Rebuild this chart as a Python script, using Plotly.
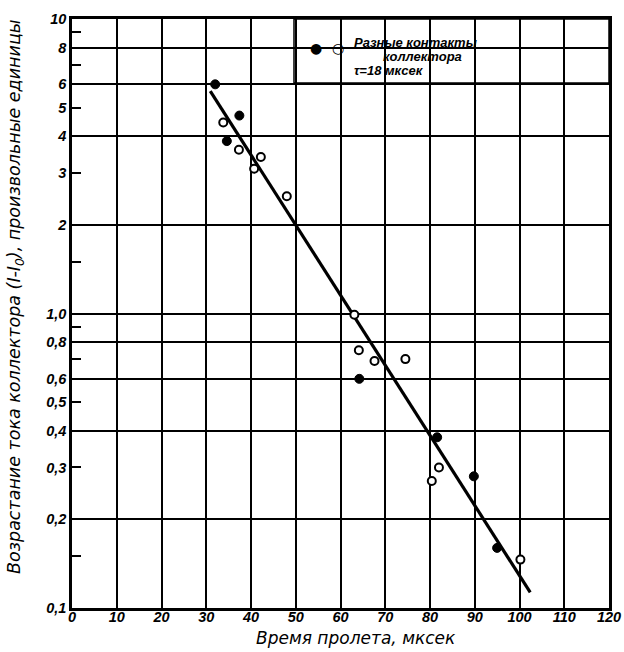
import plotly.graph_objects as go

# ---- data ----
filled_x = [32.0, 37.4, 34.6, 64.2, 81.6, 89.8, 95.0]
filled_y = [6.0, 4.7, 3.85, 0.60, 0.38, 0.28, 0.16]
open_x = [33.8, 37.3, 42.2, 40.7, 48.0, 63.1, 64.1, 67.6, 74.5, 82.0, 80.4, 100.2]
open_y = [4.45, 3.6, 3.4, 3.1, 2.5, 0.99, 0.75, 0.69, 0.70, 0.30, 0.27, 0.146]
fit_x = [30.9, 102.4]
fit_y = [5.69, 0.113]

x_ticks = list(range(0, 121, 10))
y_tickvals = [10, 9, 8, 7, 6, 5, 4, 3, 2, 1.5, 1, 0.9, 0.8, 0.7, 0.6, 0.5, 0.4, 0.3, 0.2, 0.15, 0.1]
y_ticktext = ["10", " ", "8", " ", "6", "5", "4", "3", "2", " ", "1,0", " ", "0,8", " ", "0,6", "0,5",
              "0,4", "0,3", "0,2", " ", "0,1"]
y_grid = [8, 6, 4, 2, 1, 0.8, 0.6, 0.4, 0.2]

FONT = "Liberation Sans"
tickfont = dict(family=FONT, size=14.5, color="black", style="italic", weight="bold")

# plot area in page pixels (body margin is removed below)
PL, PR, PT, PB = 72, 609, 19, 608
W, H = 624, 652


def px(xp):
    return (xp - PL) / (PR - PL)


def py(yp):
    return (PB - yp) / (PB - PT)


fig = go.Figure()
fig.add_trace(go.Scatter(x=fit_x, y=fit_y, mode="lines",
                         line=dict(color="black", width=3.2), showlegend=False))
fig.add_trace(go.Scatter(x=filled_x, y=filled_y, mode="markers",
                         marker=dict(color="black", size=9, line=dict(color="black", width=1)),
                         showlegend=False))
fig.add_trace(go.Scatter(x=open_x, y=open_y, mode="markers",
                         marker=dict(color="white", size=8, line=dict(color="black", width=2)),
                         showlegend=False))

fig.update_layout(
    width=W, height=H,
    margin=dict(l=PL, r=W - PR, t=PT, b=H - PB, autoexpand=False),
    paper_bgcolor="white", plot_bgcolor="white",
    xaxis=dict(range=[0, 120], tickvals=x_ticks, ticktext=[str(v) for v in x_ticks],
               showgrid=True, gridcolor="black", gridwidth=1.6, zeroline=False,
               showline=True, mirror=True, linecolor="black", linewidth=2.5,
               ticks="", tickfont=tickfont, ticklabelstandoff=-6, automargin=False),
    yaxis=dict(type="log", range=[-1, 1], tickvals=y_tickvals, ticktext=y_ticktext,
               showgrid=False, zeroline=False,
               showline=True, mirror=True, linecolor="black", linewidth=2.5,
               ticks="inside", ticklen=9, tickwidth=1.5, tickcolor="black",
               tickfont=tickfont, automargin=False,
               minor=dict(tickvals=y_grid, showgrid=True, gridcolor="black", gridwidth=1.6,
                          ticks="")),
)

# legend box (white, bordered) in the upper right of the plot area
fig.add_shape(type="rect", xref="paper", yref="paper",
              x0=px(294), x1=1.0, y0=py(83), y1=1.0,
              fillcolor="white", line=dict(color="black", width=1.5), layer="below")

lgfont = dict(family=FONT, size=13, color="black", style="italic", weight="bold")
sym = dict(family="DejaVu Sans", size=14, color="black")
fig.add_annotation(xref="paper", yref="paper", x=px(316), y=py(48), xanchor="center",
                   yanchor="middle", text="●", showarrow=False, font=sym)
fig.add_annotation(xref="paper", yref="paper", x=px(338), y=py(48), xanchor="center",
                   yanchor="middle", text="○", showarrow=False, font=sym)
fig.add_annotation(xref="paper", yref="paper", x=px(352), y=py(42), xanchor="left",
                   yanchor="middle", text="Разные контакты", showarrow=False, font=lgfont)
fig.add_annotation(xref="paper", yref="paper", x=px(381), y=py(56), xanchor="left",
                   yanchor="middle", text="коллектора", showarrow=False, font=lgfont)
fig.add_annotation(xref="paper", yref="paper", x=px(352), y=py(71), xanchor="left",
                   yanchor="middle", text="τ=18 мксек", showarrow=False, font=lgfont)

# axis titles
fig.add_annotation(xref="paper", yref="paper", x=px(15), y=py(297),
                   xanchor="center", yanchor="middle",
                   text="Возрастание тока коллектора (I-I<sub>0</sub>), произвольные единицы",
                   textangle=-90, showarrow=False,
                   font=dict(family="DejaVu Sans", size=17.5, color="black", style="italic"))
fig.add_annotation(xref="paper", yref="paper", x=px(356), y=py(638),
                   xanchor="center", yanchor="middle",
                   text="Время пролета, мксек", showarrow=False,
                   font=dict(family="DejaVu Sans", size=17, color="black", style="italic"))

fig.write_html("out.html",
               config={"displayModeBar": False},
               post_script="document.body.style.margin='0';"
                           "document.body.style.overflow='hidden';")
